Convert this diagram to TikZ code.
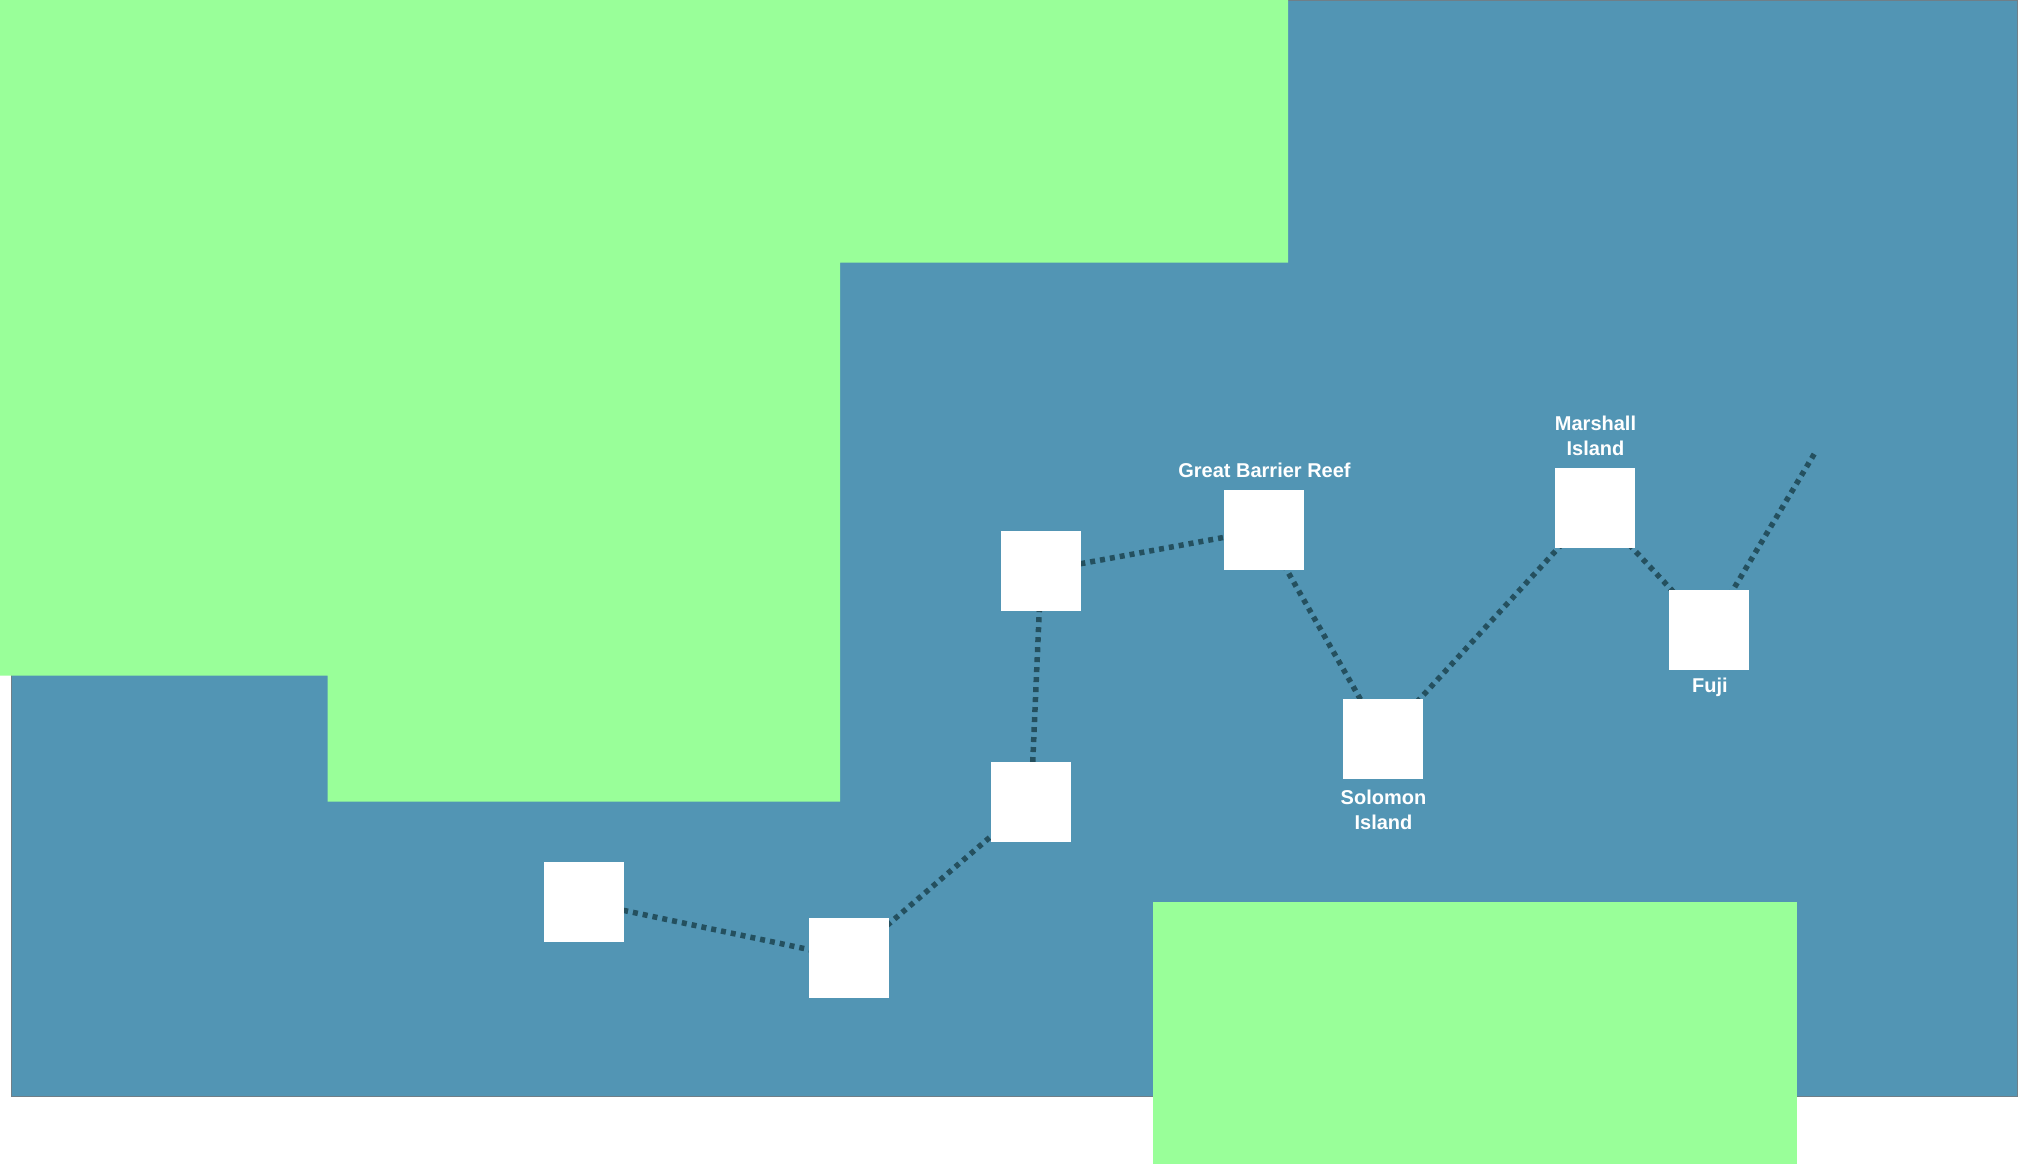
\documentclass[tikz,border=0pt]{standalone}
\usepackage{fontspec}
\setmainfont{Liberation Sans}
\usetikzlibrary{backgrounds}
\definecolor{sea}{HTML}{5295B4}
\definecolor{seaedge}{HTML}{6F7F88}
\definecolor{land}{HTML}{99FF99}
\definecolor{route}{HTML}{24505F}
\tikzset{
  stopbox/.style={fill=white,draw=none,inner sep=0pt,minimum width=80pt,minimum height=80pt},
  routeline/.style={draw=route,line width=5.5pt,dash pattern=on 5pt off 5pt},
  place/.style={text=white,font=\bfseries\fontsize{20}{25}\selectfont,align=center,inner sep=0pt}
}
\begin{document}
\begin{tikzpicture}[x=1pt,y=-1pt]
\useasboundingbox (0,0) rectangle (2018,1165);
\node[stopbox] (a) at (584,902) {};
\node[stopbox] (b) at (849,958) {};
\node[stopbox] (c) at (1031,802) {};
\node[stopbox] (d) at (1041,571) {};
\node[stopbox] (e) at (1264,530) {};
\node[stopbox] (f) at (1383,739) {};
\node[stopbox] (g) at (1595,508) {};
\node[stopbox] (h) at (1709,630) {};
\coordinate (z) at (1816,451);
\begin{pgfonlayer}{background}
\fill[white] (0,0) rectangle (2018,1165);
\filldraw[fill=sea,draw=seaedge,line width=1pt] (11,0.5) rectangle (2017.5,1096);
\fill[land] (0,0) -- (1288,0) -- (1288,262.5) -- (840,262.5) -- (840,801.5) -- (327.5,801.5) -- (327.5,675.5) -- (0,675.5) -- cycle;
\fill[land] (1153,901.5) rectangle (1796.5,1163.5);
\draw[routeline] (a.center) -- (b.center);
\draw[routeline] (b.center) -- (c.center);
\draw[routeline] (c.center) -- (d.center);
\draw[routeline] (d.center) -- (e.center);
\draw[routeline] (e.center) -- (f.center);
\draw[routeline] (f.center) -- (g.center);
\draw[routeline] (g.center) -- (h.center);
\draw[routeline] (h.center) -- (z);
\end{pgfonlayer}
\node[place] (te) at (1264.5,470) {Great Barrier Reef};
\node[place] (tg) at (1595.5,435.5) {Marshall\\Island};
\node[place] (tf) at (1383.5,809.5) {Solomon\\Island};
\node[place] (th) at (1710,687) {Fuji};
\end{tikzpicture}
\end{document}
